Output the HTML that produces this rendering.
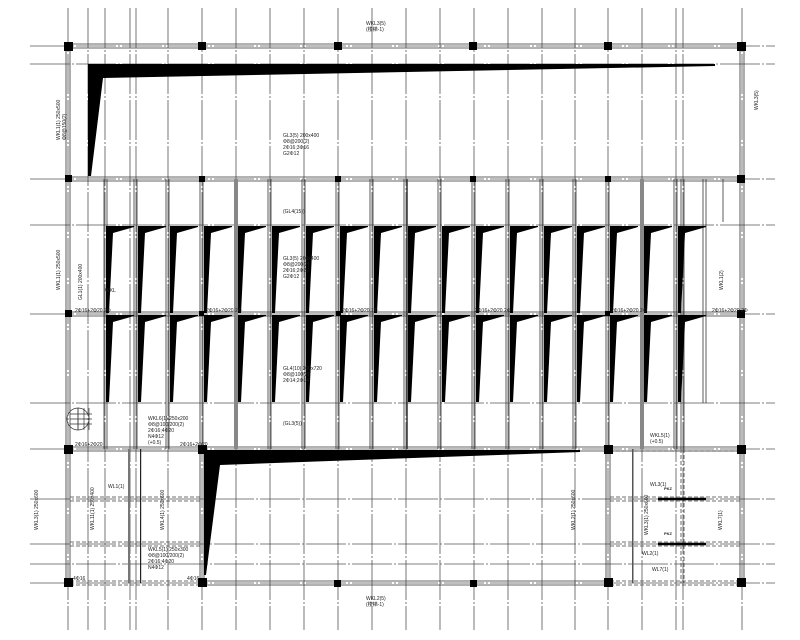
<!DOCTYPE html>
<html><head><meta charset="utf-8">
<style>
html,body{margin:0;padding:0;background:#fff;}
svg{display:block;}
text{font-family:"Liberation Sans","Noto Sans CJK SC",sans-serif;font-size:5px;fill:#222;}
</style></head>
<body>
<svg width="800" height="640" viewBox="0 0 800 640" xmlns="http://www.w3.org/2000/svg">
<defs>
<polygon id="w" points="0,226 28,226 28,227 7,233 3,313 0,313" fill="#000"/>
<polygon id="w2" points="0,315 28,315 28,316 7,322 3,402 0,402" fill="#000"/>
</defs>
<!-- vertical grid lines (dash-dot) -->
<g stroke="#555" stroke-width="0.8" stroke-dasharray="40,2,2,2">
<line x1="68" y1="8" x2="68" y2="630"/><line x1="88" y1="8" x2="88" y2="630"/>
<line x1="105" y1="8" x2="105" y2="630"/><line x1="130" y1="8" x2="130" y2="630"/>
<line x1="136" y1="8" x2="136" y2="630"/><line x1="168" y1="8" x2="168" y2="630"/>
<line x1="202" y1="8" x2="202" y2="630"/><line x1="236" y1="8" x2="236" y2="630"/>
<line x1="270" y1="8" x2="270" y2="630"/><line x1="304" y1="8" x2="304" y2="630"/>
<line x1="338" y1="8" x2="338" y2="630"/><line x1="372" y1="8" x2="372" y2="630"/>
<line x1="406" y1="8" x2="406" y2="630"/><line x1="440" y1="8" x2="440" y2="630"/>
<line x1="474" y1="8" x2="474" y2="630"/><line x1="508" y1="8" x2="508" y2="630"/>
<line x1="542" y1="8" x2="542" y2="630"/><line x1="575" y1="8" x2="575" y2="630"/>
<line x1="608" y1="8" x2="608" y2="630"/><line x1="642" y1="8" x2="642" y2="630"/>
<line x1="676" y1="8" x2="676" y2="630"/><line x1="683" y1="8" x2="683" y2="630"/>
<line x1="742" y1="8" x2="742" y2="630"/>
</g>
<!-- horizontal grid lines -->
<g stroke="#555" stroke-width="0.8" stroke-dasharray="40,2,2,2">
<line x1="30" y1="46" x2="775" y2="46"/><line x1="30" y1="64" x2="775" y2="64"/>
<line x1="30" y1="179" x2="775" y2="179"/><line x1="30" y1="225" x2="775" y2="225"/>
<line x1="30" y1="314" x2="775" y2="314"/><line x1="30" y1="403" x2="775" y2="403"/>
<line x1="30" y1="449" x2="775" y2="449"/><line x1="30" y1="499" x2="775" y2="499"/>
<line x1="30" y1="544" x2="775" y2="544"/><line x1="30" y1="564" x2="775" y2="564"/>
<line x1="30" y1="583" x2="775" y2="583"/>
</g>
<!-- beams: double lines -->
<g stroke="#333" stroke-width="0.8" fill="none">
<line x1="68" y1="44" x2="742" y2="44"/><line x1="68" y1="48" x2="742" y2="48"/>
<line x1="68" y1="177" x2="742" y2="177"/><line x1="68" y1="181" x2="742" y2="181"/>
<line x1="68" y1="312" x2="742" y2="312"/><line x1="68" y1="316" x2="742" y2="316"/>
<line x1="68" y1="447" x2="742" y2="447"/><line x1="68" y1="451" x2="742" y2="451"/>
<line x1="202" y1="581" x2="608" y2="581"/><line x1="202" y1="585" x2="608" y2="585"/>
<line x1="66" y1="46" x2="66" y2="583"/><line x1="70" y1="46" x2="70" y2="583"/>
<line x1="740" y1="46" x2="740" y2="583"/><line x1="744" y1="46" x2="744" y2="583"/>
<line x1="200" y1="449" x2="200" y2="583"/><line x1="204" y1="449" x2="204" y2="583"/>
<line x1="606" y1="449" x2="606" y2="583"/><line x1="610" y1="449" x2="610" y2="583"/>
<line x1="723" y1="179" x2="723" y2="222"/>
</g>
<!-- bay vertical double lines -->
<g stroke="#333" stroke-width="0.8">
<line x1="104" y1="179" x2="104" y2="449"/><line x1="107" y1="179" x2="107" y2="449"/>
<line x1="134" y1="179" x2="134" y2="449"/><line x1="137" y1="179" x2="137" y2="449"/>
<line x1="166" y1="179" x2="166" y2="449"/><line x1="169" y1="179" x2="169" y2="449"/>
<line x1="200" y1="179" x2="200" y2="449"/><line x1="203" y1="179" x2="203" y2="449"/>
<line x1="268" y1="179" x2="268" y2="449"/><line x1="271" y1="179" x2="271" y2="449"/>
<line x1="302" y1="179" x2="302" y2="449"/><line x1="305" y1="179" x2="305" y2="449"/>
<line x1="336" y1="179" x2="336" y2="449"/><line x1="339" y1="179" x2="339" y2="449"/>
<line x1="370" y1="179" x2="370" y2="449"/><line x1="373" y1="179" x2="373" y2="449"/>
<line x1="404" y1="179" x2="404" y2="449"/><line x1="407" y1="179" x2="407" y2="449" stroke-width="1.5"/>
<line x1="438" y1="179" x2="438" y2="449"/><line x1="441" y1="179" x2="441" y2="449"/>
<line x1="472" y1="179" x2="472" y2="449"/><line x1="475" y1="179" x2="475" y2="449"/>
<line x1="506" y1="179" x2="506" y2="449"/><line x1="509" y1="179" x2="509" y2="449"/>
<line x1="540" y1="179" x2="540" y2="449"/><line x1="543" y1="179" x2="543" y2="449"/>
<line x1="573" y1="179" x2="573" y2="449"/><line x1="576" y1="179" x2="576" y2="449"/>
<line x1="606" y1="179" x2="606" y2="449"/><line x1="609" y1="179" x2="609" y2="449"/>
<line x1="674" y1="179" x2="674" y2="449"/><line x1="677" y1="179" x2="677" y2="449"/>
<line x1="681" y1="179" x2="681" y2="449"/><line x1="684" y1="179" x2="684" y2="449"/>
<line x1="703" y1="179" x2="703" y2="403"/><line x1="706" y1="179" x2="706" y2="403"/>
</g>
<rect x="234" y="179" width="4" height="270" fill="#888"/>
<rect x="640" y="179" width="4" height="270" fill="#888"/>
<rect x="128" y="449" width="2" height="134" fill="#777"/>
<rect x="140" y="449" width="1.2" height="134" fill="#222"/>
<rect x="632" y="449" width="1.5" height="134" fill="#555"/>
<!-- dashed internal beams lower -->
<g stroke="#444" stroke-width="0.8" stroke-dasharray="4,2">
<line x1="70" y1="497" x2="200" y2="497"/><line x1="70" y1="501" x2="200" y2="501"/>
<line x1="70" y1="542" x2="200" y2="542"/><line x1="70" y1="546" x2="200" y2="546"/>
<line x1="70" y1="581" x2="200" y2="581"/><line x1="70" y1="585" x2="200" y2="585"/>
<line x1="610" y1="497" x2="740" y2="497"/><line x1="610" y1="501" x2="740" y2="501"/>
<line x1="610" y1="542" x2="740" y2="542"/><line x1="610" y1="546" x2="740" y2="546"/>
<line x1="610" y1="581" x2="740" y2="581"/><line x1="610" y1="585" x2="740" y2="585"/>
<line x1="610" y1="451" x2="740" y2="451"/>
<line x1="681" y1="449" x2="681" y2="583"/><line x1="684" y1="449" x2="684" y2="583"/>
</g>
<g stroke="#000" stroke-width="2.5">
<line x1="658" y1="499" x2="706" y2="499"/><line x1="658" y1="544" x2="706" y2="544"/>
</g>
<!-- big wedges -->
<polygon points="88,64 715,64 715,66 103,78 91,176 88,176" fill="#000"/>
<polygon points="204,450 580,450 580,452 220,465 206,575 204,575" fill="#000"/>
<!-- bay wedges -->
<g>
<use href="#w" x="106"/><use href="#w" x="138"/><use href="#w" x="170"/><use href="#w" x="204"/>
<use href="#w" x="238"/><use href="#w" x="272"/><use href="#w" x="306"/><use href="#w" x="340"/>
<use href="#w" x="374"/><use href="#w" x="408"/><use href="#w" x="442"/><use href="#w" x="476"/>
<use href="#w" x="510"/><use href="#w" x="544"/><use href="#w" x="577"/><use href="#w" x="610"/>
<use href="#w" x="644"/><use href="#w" x="678"/>
<use href="#w2" x="106"/><use href="#w2" x="138"/><use href="#w2" x="170"/><use href="#w2" x="204"/>
<use href="#w2" x="238"/><use href="#w2" x="272"/><use href="#w2" x="306"/><use href="#w2" x="340"/>
<use href="#w2" x="374"/><use href="#w2" x="408"/><use href="#w2" x="442"/><use href="#w2" x="476"/>
<use href="#w2" x="510"/><use href="#w2" x="544"/><use href="#w2" x="577"/><use href="#w2" x="610"/>
<use href="#w2" x="644"/><use href="#w2" x="678"/>
</g>
<!-- columns -->
<g fill="#000">
<rect x="64" y="42" width="9" height="9"/><rect x="198" y="42" width="8" height="8"/>
<rect x="334" y="42" width="8" height="8"/><rect x="469" y="42" width="8" height="8"/>
<rect x="604" y="42" width="8" height="8"/><rect x="737" y="42" width="9" height="9"/>
<rect x="65" y="175" width="7" height="7"/><rect x="199" y="176" width="6" height="6"/>
<rect x="335" y="176" width="6" height="6"/><rect x="470" y="176" width="6" height="6"/>
<rect x="605" y="176" width="6" height="6"/><rect x="737" y="175" width="8" height="8"/>
<rect x="65" y="310" width="7" height="7"/><rect x="199" y="311" width="5" height="5"/>
<rect x="336" y="311" width="5" height="5"/><rect x="605" y="311" width="5" height="5"/>
<rect x="737" y="310" width="8" height="8"/>
<rect x="64" y="445" width="9" height="9"/><rect x="198" y="445" width="9" height="9"/>
<rect x="604" y="445" width="9" height="9"/><rect x="737" y="445" width="9" height="9"/>
<rect x="64" y="578" width="9" height="9"/><rect x="198" y="578" width="9" height="9"/>
<rect x="334" y="580" width="7" height="7"/><rect x="470" y="580" width="7" height="7"/>
<rect x="604" y="578" width="9" height="9"/><rect x="737" y="578" width="9" height="9"/>
</g>
<!-- stair circle -->
<g stroke="#333" stroke-width="0.7" fill="none">
<path d="M78,408 A11,11 0 0 0 78,430 Z"/>
<line x1="70" y1="414" x2="92" y2="414"/><line x1="70" y1="419" x2="92" y2="419"/>
<line x1="70" y1="424" x2="92" y2="424"/><line x1="78" y1="408" x2="78" y2="430"/>
<line x1="84" y1="408" x2="84" y2="430"/><line x1="89" y1="408" x2="89" y2="430"/>
<path d="M78,408 A11,11 0 0 1 78,430"/>
</g>
<!-- labels -->
<text x="366" y="25">WKL3(5)</text><text x="366" y="31">(楼梯-1)</text>
<text x="366" y="600">WKL2(5)</text><text x="366" y="606">(楼梯-1)</text>
<text x="283" y="137">GL3(5) 200x400</text><text x="283" y="143">Φ8@200(2)</text>
<text x="283" y="149">2Φ16;3Φ16</text><text x="283" y="155">G2Φ12</text>
<text x="283" y="213">(GL4(15))</text>
<text x="283" y="260">GL3(5) 200x400</text><text x="283" y="266">Φ8@200(2)</text>
<text x="283" y="272">2Φ16;2Φ20</text><text x="283" y="278">G2Φ12</text>
<text x="283" y="370">GL4(10) 200x720</text><text x="283" y="376">Φ8@100(2)</text>
<text x="283" y="382">2Φ14;2Φ14</text>
<text x="283" y="425">(GL3(5))</text>
<text x="148" y="420">WKL6(1) 250x200</text><text x="148" y="426">Φ8@100/200(2)</text>
<text x="148" y="432">2Φ16;4Φ20</text><text x="148" y="438">N4Φ12</text><text x="148" y="444">(+0.5)</text>
<text x="148" y="551">WKL5(1) 250x300</text><text x="148" y="557">Φ8@100/200(2)</text>
<text x="148" y="563">2Φ16;4Φ20</text><text x="148" y="569">N4Φ12</text>
<text x="75" y="446">2Φ16+2Φ20</text><text x="180" y="446">2Φ16+2Φ20</text>
<text x="75" y="312">2Φ16+2Φ20 2Φ</text><text x="206" y="312">2Φ16+2Φ20 2Φ</text>
<text x="342" y="312">2Φ16+2Φ20 2Φ</text><text x="475" y="312">2Φ16+2Φ20 2Φ</text>
<text x="611" y="312">2Φ16+2Φ20 2Φ</text><text x="712" y="312">2Φ16+2Φ20 2Φ</text>
<text x="73" y="580">4Φ16</text><text x="187" y="580">4Φ16</text>
<text x="105" y="292">WKL</text>
<text x="650" y="486">WL3(1)</text><text x="642" y="555">WL2(1)</text><text x="652" y="571">WL7(1)</text>
<text x="650" y="437">WKL5(1)</text><text x="650" y="443">(+0.5)</text>
<text x="108" y="488">WL1(1)</text>
<text x="60" y="140" transform="rotate(-90 60 140)">WKL1(1) 250x500</text>
<text x="66" y="140" transform="rotate(-90 66 140)">Φ8@150(2)</text>
<text x="60" y="290" transform="rotate(-90 60 290)">WKL1(1) 250x500</text>
<text x="82" y="300" transform="rotate(-90 82 300)">GL1(1) 200x400</text>
<text x="38" y="530" transform="rotate(-90 38 530)">WKL3(1) 250x600</text>
<text x="94" y="530" transform="rotate(-90 94 530)">WKL11(1) 250x400</text>
<text x="164" y="530" transform="rotate(-90 164 530)">WKL4(1) 250x600</text>
<text x="575" y="530" transform="rotate(-90 575 530)">WKL2(1) 250x600</text>
<text x="648" y="535" transform="rotate(-90 648 535)">WKL3(1) 250x600</text>
<text x="758" y="110" transform="rotate(-90 758 110)">WKL3(5)</text>
<text x="723" y="290" transform="rotate(-90 723 290)">WKL1(2)</text>
<text x="722" y="530" transform="rotate(-90 722 530)">WKL7(1)</text>
<text x="664" y="490" style="font-size:4px;font-weight:bold">PKZ</text>
<text x="664" y="535" style="font-size:4px;font-weight:bold">PKZ</text>
</g>
</svg>
</body></html>
